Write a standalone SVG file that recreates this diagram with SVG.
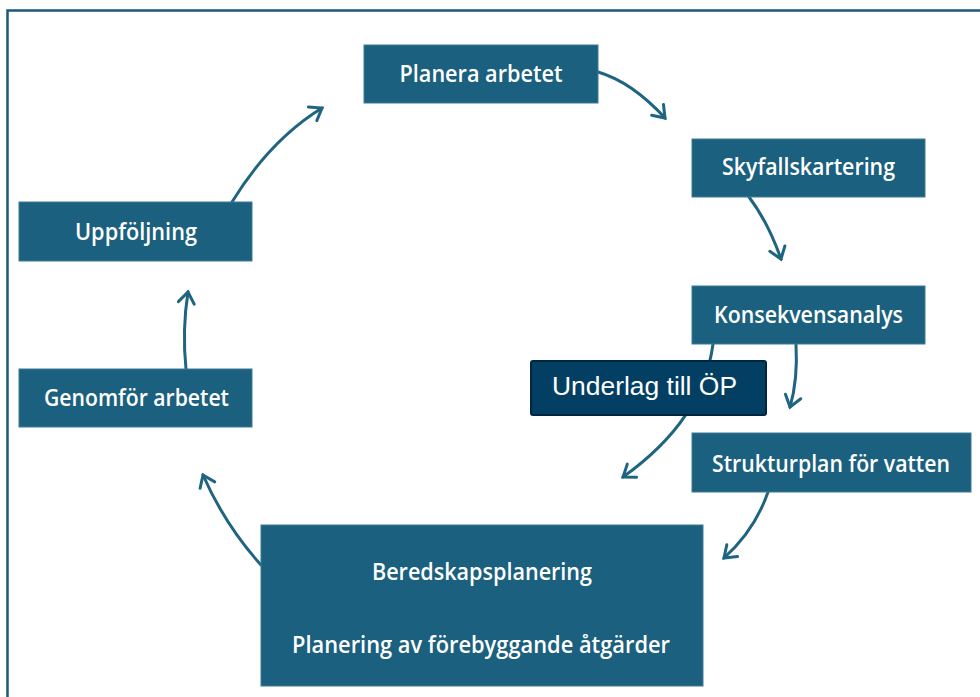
<svg xmlns="http://www.w3.org/2000/svg" width="980" height="697" viewBox="0 0 980 697">
<defs>
<style>
.box{fill:#1B607E;stroke:#3E7A96;stroke-width:1}
.t{fill:#FFFFFF;font-family:"Open Sans","Noto Sans",sans-serif;font-weight:600;font-size:23px;text-anchor:middle}
.arr{fill:none;stroke:#1F6480;stroke-width:3;stroke-linecap:round;marker-end:url(#ah)}
</style>
<marker id="ah" markerUnits="userSpaceOnUse" markerWidth="30" markerHeight="30" refX="15" refY="15" orient="auto" viewBox="0 0 30 30">
<path d="M4,7 L15,15 L4,23" fill="none" stroke="#1F6480" stroke-width="3" stroke-linecap="round" stroke-linejoin="miter"/>
</marker>
</defs>
<rect x="0" y="0" width="980" height="697" fill="#FFFFFF"/>
<rect x="7.5" y="10.5" width="1000" height="720" fill="none" stroke="#1D5878" stroke-width="2.5"/>
<g id="connectors">
<path class="arr" d="M598,72 Q632,82 665,118"/>
<path class="arr" d="M749,197 Q768,222 781,259"/>
<path class="arr" d="M796,344 Q798,380 790,407"/>
<path class="arr" d="M713,344 Q703,420 623,477"/>
<path class="arr" d="M768,492 Q755,530 724,558"/>
<path class="arr" d="M261,565 Q225,525 203,475"/>
<path class="arr" d="M186,369 Q182,330 188,292"/>
<path class="arr" d="M232,202 Q270,140 322,108"/>
</g>
<g id="planera">
<rect class="box" x="364" y="45" width="234" height="58"/>
<text class="t" x="481" y="82" textLength="163" lengthAdjust="spacingAndGlyphs">Planera arbetet</text>
</g>
<g id="skyfall">
<rect class="box" x="692" y="139" width="233" height="58"/>
<text class="t" x="808.5" y="175" textLength="173" lengthAdjust="spacingAndGlyphs">Skyfallskartering</text>
</g>
<g id="konsekvens">
<rect class="box" x="692" y="286" width="233" height="58"/>
<text class="t" x="808.5" y="323" textLength="189" lengthAdjust="spacingAndGlyphs">Konsekvensanalys</text>
</g>
<g id="underlag">
<rect x="531" y="361" width="235" height="54" rx="2" fill="#023F63" stroke="#01263F" stroke-width="2"/>
<text x="644.5" y="395" fill="#FFFFFF" font-family="'Liberation Sans',Arial,sans-serif" font-size="25" text-anchor="middle" textLength="185" lengthAdjust="spacingAndGlyphs">Underlag till ÖP</text>
</g>
<g id="strukturplan">
<rect class="box" x="692" y="433" width="279" height="59"/>
<text class="t" x="831" y="472" textLength="238" lengthAdjust="spacingAndGlyphs">Strukturplan för vatten</text>
</g>
<g id="beredskap">
<rect class="box" x="261" y="525" width="442" height="161"/>
<text class="t" x="482" y="580" textLength="220" lengthAdjust="spacingAndGlyphs">Beredskapsplanering</text>
<text class="t" x="481" y="653" textLength="378" lengthAdjust="spacingAndGlyphs">Planering av förebyggande åtgärder</text>
</g>
<g id="genomfor">
<rect class="box" x="19" y="369" width="233" height="58"/>
<text class="t" x="136.5" y="406" textLength="185" lengthAdjust="spacingAndGlyphs">Genomför arbetet</text>
</g>
<g id="uppfoljning">
<rect class="box" x="19" y="202" width="233" height="59"/>
<text class="t" x="136" y="240" textLength="122" lengthAdjust="spacingAndGlyphs">Uppföljning</text>
</g>
</svg>
